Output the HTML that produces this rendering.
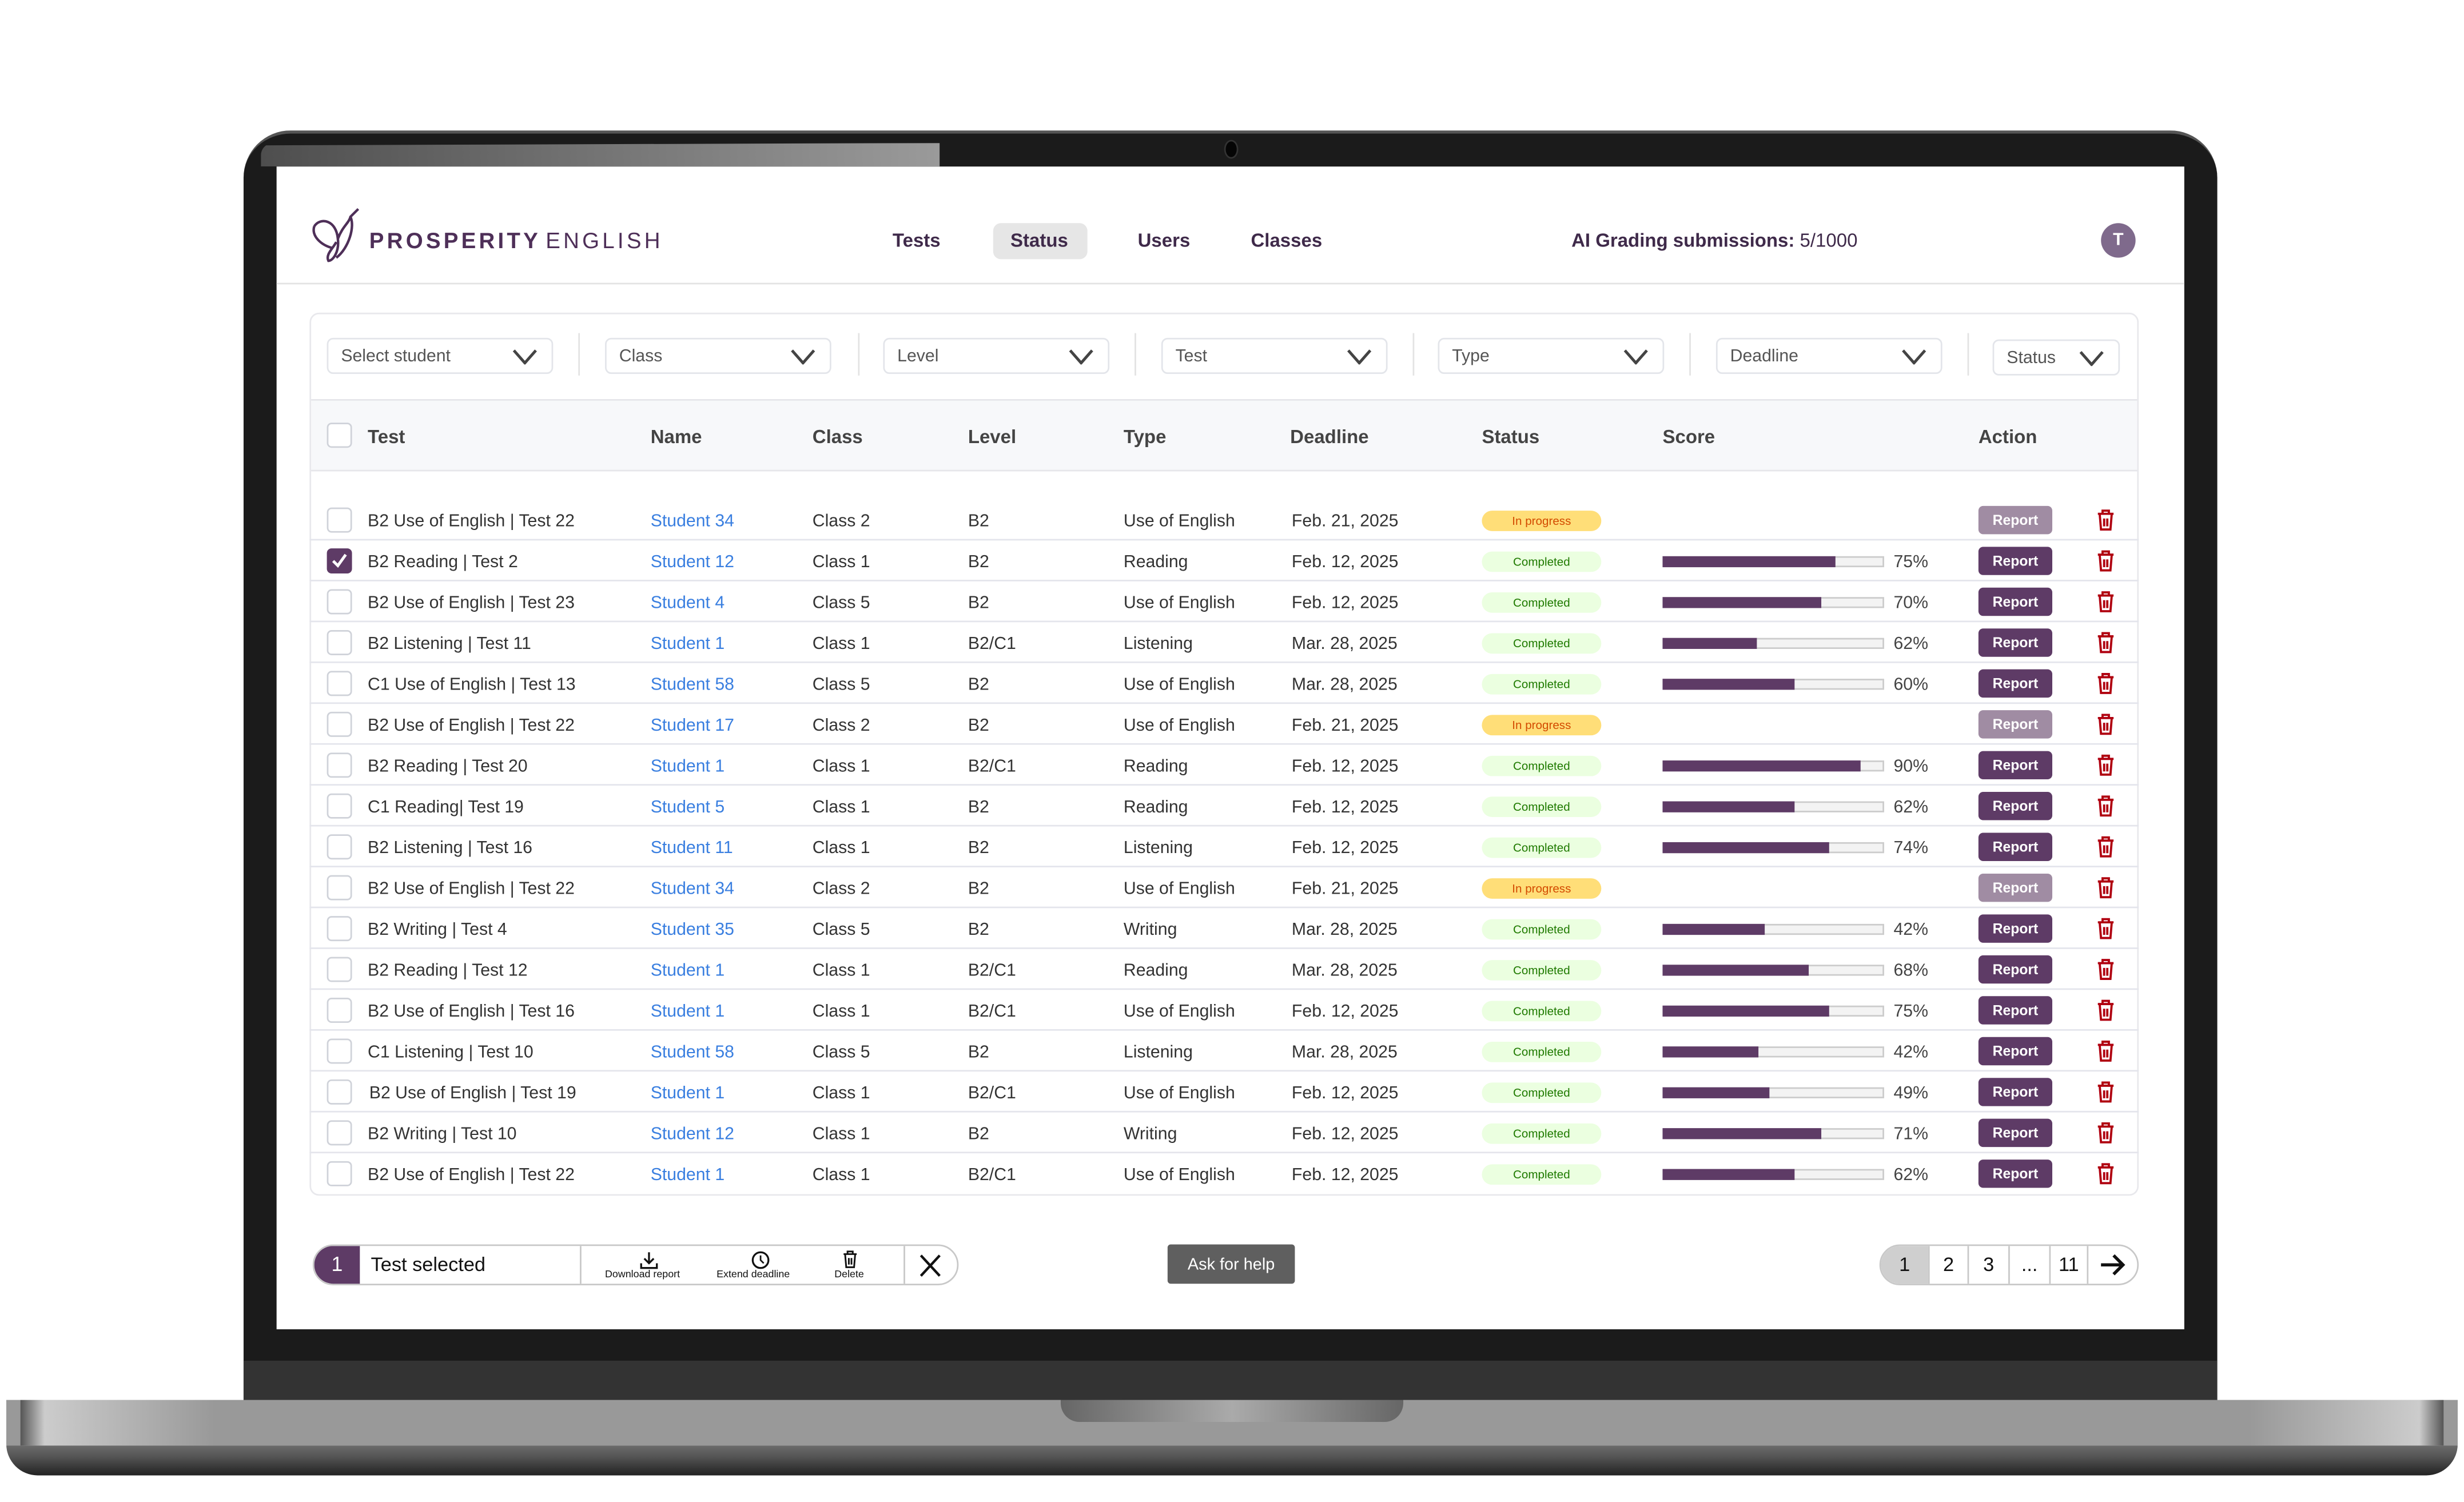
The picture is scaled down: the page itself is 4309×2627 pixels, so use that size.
<!DOCTYPE html>
<html><head><meta charset="utf-8"><style>
*{margin:0;padding:0;box-sizing:border-box}
body{width:4309px;height:2627px;background:#fff;overflow:hidden;font-family:"Liberation Sans",sans-serif}
#s{position:absolute;left:0;top:0;width:1568px;height:956px;transform:scale(2.74809);transform-origin:0 0}
.a{position:absolute}
.nav{position:absolute;top:146px;font-size:12px;font-weight:bold;color:#3f2a4a}
.f{position:absolute;top:215px;height:23px;border:1px solid #e3e5ea;border-radius:4px;font-size:11px;color:#555;padding-left:8px;line-height:23px}
.f svg{position:absolute;right:9px;top:6px}
.sep{position:absolute;top:212px;width:1px;height:27px;background:#e3e3e3}
.th{position:absolute;top:271px;font-size:12px;font-weight:bold;color:#444}
.r{position:absolute;left:197px;width:1164px;height:26px;border-bottom:1px solid #e4e5ec;font-size:11px;color:#333;line-height:28px}
.r span{position:absolute;top:0;white-space:nowrap}
.cb{position:absolute;left:11px;top:5px;width:16px;height:16px;border:1.3px solid #cfd2d9;border-radius:3px;background:#fff}
.cb.on{background:#5e3b66;border-color:#5e3b66}
.r .n{left:217px;color:#3a7fe0}
.pill{position:absolute;left:746px;top:7px;width:76px;height:13px;border-radius:7px;font-size:7.5px;line-height:13px;text-align:center}
.cp{background:#ebffe0;color:#1f7a00}
.ip{background:#ffde78;color:#d34a00}
.bar{position:absolute;left:861px;top:10px;width:141px;height:7px;background:#f3f3f3;border:1px solid #ccc}
.bar i{position:absolute;left:-1px;top:-1px;height:7px;background:#5e3b66}
.r .p{left:1008px;color:#444}
.rep{position:absolute;left:1062px;top:4px;width:47px;height:18px;border-radius:3px;background:#5e3b66;color:#fff;font-size:9px;font-weight:bold;text-align:center;line-height:19px}
.rep.l{background:#a08ca3}
.tr{position:absolute;left:1137px;top:6px}
</style></head><body><div id="s">
<!-- laptop -->
<div class="a" style="left:155px;top:83px;width:1256px;height:815px;background:#1b1b1b;border-radius:30px 30px 0 0;border-top:2px solid #555"></div>
<div class="a" style="left:166px;top:91px;width:432px;height:15px;background:linear-gradient(90deg,#4e4e4e,#9a9a9a);border-radius:8px 0 0 0;clip-path:polygon(0 10%,100% 0,100% 100%,0 100%)"></div>
<div class="a" style="left:779px;top:89px;width:9px;height:12px;border-radius:50%;background:#050505;border:1px solid #333"></div>
<div class="a" style="left:155px;top:866px;width:1256px;height:26px;background:#333"></div>
<div class="a" style="left:176px;top:106px;width:1214px;height:740px;background:#fff"></div>
<div class="a" style="left:4px;top:891px;width:1560px;height:48px;border-radius:0 0 20px 20px;background:linear-gradient(180deg,#999 0,#999 60%,#6a6a6a 61%,#555 75%,#222 100%)"></div>
<div class="a" style="left:13px;top:891px;width:1542px;height:29px;background:linear-gradient(90deg,#555 0,#ccc 1%,#999 8%,#999 92%,#ccc 99%,#555 100%)"></div>
<div class="a" style="left:675px;top:891px;width:218px;height:14px;border-radius:0 0 12px 12px;background:linear-gradient(90deg,#666,#aaa 50%,#666)"></div>
<!-- header -->
<svg class="a" style="left:196px;top:132px" width="38" height="36" viewBox="0 0 38 36"><path d="M4 12 C8 6 18 8 19 20 C20 28 16 34 13 34 C11 30 16 26 18 22 M4 12 C2 18 8 24 16 26 M19 20 C22 12 26 10 27 6 L32 1 M27 6 C30 12 26 26 18 32" fill="none" stroke="#4e2f58" stroke-width="1.6"/></svg>
<div class="a" style="left:235px;top:145px;font-size:14px;letter-spacing:1.9px;color:#4e2f58;font-weight:bold">PROSPERITY<span style="font-weight:normal;margin-left:3px">ENGLISH</span></div>
<div class="nav" style="left:568px">Tests</div>
<div class="a" style="left:632px;top:142px;width:60px;height:23px;background:#e6e6e6;border-radius:5px"></div>
<div class="nav" style="left:643px">Status</div>
<div class="nav" style="left:724px">Users</div>
<div class="nav" style="left:796px">Classes</div>
<div class="nav" style="left:1000px">AI Grading submissions: <span style="font-weight:normal">5/1000</span></div>
<div class="a" style="left:1337px;top:142px;width:22px;height:22px;border-radius:50%;background:#7f6a8c;color:#fff;font-size:11px;font-weight:bold;text-align:center;line-height:22px">T</div>
<div class="a" style="left:176px;top:180px;width:1214px;height:1px;background:#e3e3e3"></div>
<!-- card -->
<div class="a" style="left:197px;top:199px;width:1164px;height:562px;border:1px solid #e8e8ec;border-radius:6px"></div>
<div class="f" style="left:208px;width:144px">Select student<svg width="16" height="10"><path d="M1 1L8 9L15 1" fill="none" stroke="#444" stroke-width="1.8"/></svg></div>
<div class="sep" style="left:368px"></div>
<div class="f" style="left:385px;width:144px">Class<svg width="16" height="10"><path d="M1 1L8 9L15 1" fill="none" stroke="#444" stroke-width="1.8"/></svg></div>
<div class="sep" style="left:546px"></div>
<div class="f" style="left:562px;width:144px">Level<svg width="16" height="10"><path d="M1 1L8 9L15 1" fill="none" stroke="#444" stroke-width="1.8"/></svg></div>
<div class="sep" style="left:722px"></div>
<div class="f" style="left:739px;width:144px">Test<svg width="16" height="10"><path d="M1 1L8 9L15 1" fill="none" stroke="#444" stroke-width="1.8"/></svg></div>
<div class="sep" style="left:899px"></div>
<div class="f" style="left:915px;width:144px">Type<svg width="16" height="10"><path d="M1 1L8 9L15 1" fill="none" stroke="#444" stroke-width="1.8"/></svg></div>
<div class="sep" style="left:1075px"></div>
<div class="f" style="left:1092px;width:144px">Deadline<svg width="16" height="10"><path d="M1 1L8 9L15 1" fill="none" stroke="#444" stroke-width="1.8"/></svg></div>
<div class="sep" style="left:1252px"></div>
<div class="f" style="left:1268px;width:81px;top:216px">Status<svg width="16" height="10"><path d="M1 1L8 9L15 1" fill="none" stroke="#444" stroke-width="1.8"/></svg></div>
<div class="a" style="left:198px;top:254px;width:1162px;height:46px;background:#f7f8fa;border-top:1px solid #e6e6ea;border-bottom:1px solid #e6e6ea"></div>
<div class="a" style="left:208px;top:269px;width:16px;height:16px;border:1.3px solid #cfd2d9;border-radius:3px;background:#fff"></div>
<div class="th" style="left:234px">Test</div><div class="th" style="left:414px">Name</div><div class="th" style="left:517px">Class</div><div class="th" style="left:616px">Level</div><div class="th" style="left:715px">Type</div><div class="th" style="left:821px">Deadline</div><div class="th" style="left:943px">Status</div><div class="th" style="left:1058px">Score</div><div class="th" style="left:1259px">Action</div>
<svg width="0" height="0" style="position:absolute"><defs><symbol id="t" viewBox="0 0 12 14"><path d="M1 3H11M4 3V1H8V3M2.2 3.5L3 13H9L9.8 3.5M5 6V11M7 6V11" fill="none" stroke="#b00010" stroke-width="1.4"/></symbol></defs></svg>
<!-- rows -->
<div class="r" style="top:318px"><div class="cb"></div><span style="left:37px">B2 Use of English | Test 22</span><span class="n">Student 34</span><span style="left:320px">Class 2</span><span style="left:419px">B2</span><span style="left:518px">Use of English</span><span style="left:625px">Feb. 21, 2025</span><div class="pill ip">In progress</div><div class="rep l">Report</div><svg class="tr" width="12" height="14"><use href="#t"/></svg></div>
<div class="r" style="top:344px"><div class="cb on"><svg width="14" height="14" style="position:absolute;left:0;top:0"><path d="M3 7L6 10L11 3" fill="none" stroke="#fff" stroke-width="1.8"/></svg></div><span style="left:37px">B2 Reading | Test 2</span><span class="n">Student 12</span><span style="left:320px">Class 1</span><span style="left:419px">B2</span><span style="left:518px">Reading</span><span style="left:625px">Feb. 12, 2025</span><div class="pill cp">Completed</div><div class="bar"><i style="width:110px"></i></div><span class="p">75%</span><div class="rep">Report</div><svg class="tr" width="12" height="14"><use href="#t"/></svg></div>
<div class="r" style="top:370px"><div class="cb"></div><span style="left:37px">B2 Use of English | Test 23</span><span class="n">Student 4</span><span style="left:320px">Class 5</span><span style="left:419px">B2</span><span style="left:518px">Use of English</span><span style="left:625px">Feb. 12, 2025</span><div class="pill cp">Completed</div><div class="bar"><i style="width:101px"></i></div><span class="p">70%</span><div class="rep">Report</div><svg class="tr" width="12" height="14"><use href="#t"/></svg></div>
<div class="r" style="top:396px"><div class="cb"></div><span style="left:37px">B2 Listening | Test 11</span><span class="n">Student 1</span><span style="left:320px">Class 1</span><span style="left:419px">B2/C1</span><span style="left:518px">Listening</span><span style="left:625px">Mar. 28, 2025</span><div class="pill cp">Completed</div><div class="bar"><i style="width:60px"></i></div><span class="p">62%</span><div class="rep">Report</div><svg class="tr" width="12" height="14"><use href="#t"/></svg></div>
<div class="r" style="top:422px"><div class="cb"></div><span style="left:37px">C1 Use of English | Test 13</span><span class="n">Student 58</span><span style="left:320px">Class 5</span><span style="left:419px">B2</span><span style="left:518px">Use of English</span><span style="left:625px">Mar. 28, 2025</span><div class="pill cp">Completed</div><div class="bar"><i style="width:84px"></i></div><span class="p">60%</span><div class="rep">Report</div><svg class="tr" width="12" height="14"><use href="#t"/></svg></div>
<div class="r" style="top:448px"><div class="cb"></div><span style="left:37px">B2 Use of English | Test 22</span><span class="n">Student 17</span><span style="left:320px">Class 2</span><span style="left:419px">B2</span><span style="left:518px">Use of English</span><span style="left:625px">Feb. 21, 2025</span><div class="pill ip">In progress</div><div class="rep l">Report</div><svg class="tr" width="12" height="14"><use href="#t"/></svg></div>
<div class="r" style="top:474px"><div class="cb"></div><span style="left:37px">B2 Reading | Test 20</span><span class="n">Student 1</span><span style="left:320px">Class 1</span><span style="left:419px">B2/C1</span><span style="left:518px">Reading</span><span style="left:625px">Feb. 12, 2025</span><div class="pill cp">Completed</div><div class="bar"><i style="width:126px"></i></div><span class="p">90%</span><div class="rep">Report</div><svg class="tr" width="12" height="14"><use href="#t"/></svg></div>
<div class="r" style="top:500px"><div class="cb"></div><span style="left:37px">C1 Reading| Test 19</span><span class="n">Student 5</span><span style="left:320px">Class 1</span><span style="left:419px">B2</span><span style="left:518px">Reading</span><span style="left:625px">Feb. 12, 2025</span><div class="pill cp">Completed</div><div class="bar"><i style="width:84px"></i></div><span class="p">62%</span><div class="rep">Report</div><svg class="tr" width="12" height="14"><use href="#t"/></svg></div>
<div class="r" style="top:526px"><div class="cb"></div><span style="left:37px">B2 Listening | Test 16</span><span class="n">Student 11</span><span style="left:320px">Class 1</span><span style="left:419px">B2</span><span style="left:518px">Listening</span><span style="left:625px">Feb. 12, 2025</span><div class="pill cp">Completed</div><div class="bar"><i style="width:106px"></i></div><span class="p">74%</span><div class="rep">Report</div><svg class="tr" width="12" height="14"><use href="#t"/></svg></div>
<div class="r" style="top:552px"><div class="cb"></div><span style="left:37px">B2 Use of English | Test 22</span><span class="n">Student 34</span><span style="left:320px">Class 2</span><span style="left:419px">B2</span><span style="left:518px">Use of English</span><span style="left:625px">Feb. 21, 2025</span><div class="pill ip">In progress</div><div class="rep l">Report</div><svg class="tr" width="12" height="14"><use href="#t"/></svg></div>
<div class="r" style="top:578px"><div class="cb"></div><span style="left:37px">B2 Writing | Test 4</span><span class="n">Student 35</span><span style="left:320px">Class 5</span><span style="left:419px">B2</span><span style="left:518px">Writing</span><span style="left:625px">Mar. 28, 2025</span><div class="pill cp">Completed</div><div class="bar"><i style="width:65px"></i></div><span class="p">42%</span><div class="rep">Report</div><svg class="tr" width="12" height="14"><use href="#t"/></svg></div>
<div class="r" style="top:604px"><div class="cb"></div><span style="left:37px">B2 Reading | Test 12</span><span class="n">Student 1</span><span style="left:320px">Class 1</span><span style="left:419px">B2/C1</span><span style="left:518px">Reading</span><span style="left:625px">Mar. 28, 2025</span><div class="pill cp">Completed</div><div class="bar"><i style="width:93px"></i></div><span class="p">68%</span><div class="rep">Report</div><svg class="tr" width="12" height="14"><use href="#t"/></svg></div>
<div class="r" style="top:630px"><div class="cb"></div><span style="left:37px">B2 Use of English | Test 16</span><span class="n">Student 1</span><span style="left:320px">Class 1</span><span style="left:419px">B2/C1</span><span style="left:518px">Use of English</span><span style="left:625px">Feb. 12, 2025</span><div class="pill cp">Completed</div><div class="bar"><i style="width:106px"></i></div><span class="p">75%</span><div class="rep">Report</div><svg class="tr" width="12" height="14"><use href="#t"/></svg></div>
<div class="r" style="top:656px"><div class="cb"></div><span style="left:37px">C1 Listening | Test 10</span><span class="n">Student 58</span><span style="left:320px">Class 5</span><span style="left:419px">B2</span><span style="left:518px">Listening</span><span style="left:625px">Mar. 28, 2025</span><div class="pill cp">Completed</div><div class="bar"><i style="width:61px"></i></div><span class="p">42%</span><div class="rep">Report</div><svg class="tr" width="12" height="14"><use href="#t"/></svg></div>
<div class="r" style="top:682px"><div class="cb"></div><span style="left:38px">B2 Use of English | Test 19</span><span class="n">Student 1</span><span style="left:320px">Class 1</span><span style="left:419px">B2/C1</span><span style="left:518px">Use of English</span><span style="left:625px">Feb. 12, 2025</span><div class="pill cp">Completed</div><div class="bar"><i style="width:68px"></i></div><span class="p">49%</span><div class="rep">Report</div><svg class="tr" width="12" height="14"><use href="#t"/></svg></div>
<div class="r" style="top:708px"><div class="cb"></div><span style="left:37px">B2 Writing | Test 10</span><span class="n">Student 12</span><span style="left:320px">Class 1</span><span style="left:419px">B2</span><span style="left:518px">Writing</span><span style="left:625px">Feb. 12, 2025</span><div class="pill cp">Completed</div><div class="bar"><i style="width:101px"></i></div><span class="p">71%</span><div class="rep">Report</div><svg class="tr" width="12" height="14"><use href="#t"/></svg></div>
<div class="r" style="top:734px;border-bottom:none"><div class="cb"></div><span style="left:37px">B2 Use of English | Test 22</span><span class="n">Student 1</span><span style="left:320px">Class 1</span><span style="left:419px">B2/C1</span><span style="left:518px">Use of English</span><span style="left:625px">Feb. 12, 2025</span><div class="pill cp">Completed</div><div class="bar"><i style="width:84px"></i></div><span class="p">62%</span><div class="rep">Report</div><svg class="tr" width="12" height="14"><use href="#t"/></svg></div>
<!-- bottom bar -->
<div class="a" style="left:199px;top:792px;width:411px;height:26px;border:1px solid #c8c8c8;border-radius:13px;overflow:hidden;background:#fff">
 <div class="a" style="left:0;top:0;width:29px;height:26px;background:#5e3b66;color:#fff;font-size:13px;text-align:center;line-height:24px">1</div>
 <div class="a" style="left:36px;top:0;font-size:12.5px;line-height:24px;color:#111">Test selected</div>
 <div class="a" style="left:169px;top:0;width:1px;height:26px;background:#c8c8c8"></div>
 <div class="a" style="left:375px;top:0;width:1px;height:26px;background:#c8c8c8"></div>
 <svg class="a" style="left:207px;top:3px" width="12" height="12"><path d="M6 1V8M3 5L6 8L9 5M1 8V11H11V8" fill="none" stroke="#111" stroke-width="1.2"/></svg>
 <div class="a" style="left:185px;top:15px;font-size:6.5px;color:#111">Download report</div>
 <svg class="a" style="left:278px;top:3px" width="12" height="12"><circle cx="6" cy="6" r="5" fill="none" stroke="#111" stroke-width="1.2"/><path d="M6 3V6L8 8" fill="none" stroke="#111" stroke-width="1"/></svg>
 <div class="a" style="left:256px;top:15px;font-size:6.5px;color:#111">Extend deadline</div>
 <svg class="a" style="left:336px;top:2px" width="10" height="13" viewBox="0 0 12 14"><path d="M1 3H11M4 3V1H8V3M2.2 3.5L3 13H9L9.8 3.5M5 6V11M7 6V11" fill="none" stroke="#111" stroke-width="1.3"/></svg>
 <div class="a" style="left:331px;top:15px;font-size:6.5px;color:#111">Delete</div>
 <svg class="a" style="left:385px;top:5px" width="14" height="15"><path d="M1 1L13 14M13 1L1 14" stroke="#111" stroke-width="1.6"/></svg>
</div>
<div class="a" style="left:743px;top:792px;width:81px;height:25px;background:#5f5f5f;border-radius:2px;color:#fff;font-size:10.5px;text-align:center;line-height:26px">Ask for help</div>
<div class="a" style="left:1196px;top:792px;width:165px;height:26px;border:1px solid #c8c8c8;border-radius:13px;overflow:hidden;font-size:12.5px;color:#111;line-height:24px">
 <div class="a" style="left:0;top:0;width:30px;height:26px;background:#cfcfcf;text-align:center">1</div>
 <div class="a" style="left:30px;top:0;width:25px;height:26px;border-left:1px solid #c8c8c8;text-align:center">2</div>
 <div class="a" style="left:55px;top:0;width:26px;height:26px;border-left:1px solid #c8c8c8;text-align:center">3</div>
 <div class="a" style="left:81px;top:0;width:26px;height:26px;border-left:1px solid #c8c8c8;text-align:center">...</div>
 <div class="a" style="left:107px;top:0;width:25px;height:26px;border-left:1px solid #c8c8c8;border-right:1px solid #c8c8c8;text-align:center">11</div>
 <svg class="a" style="left:139px;top:5px" width="17" height="14"><path d="M1 7H15M9 1L15 7L9 13" fill="none" stroke="#111" stroke-width="2"/></svg>
</div>
</div></body></html>
